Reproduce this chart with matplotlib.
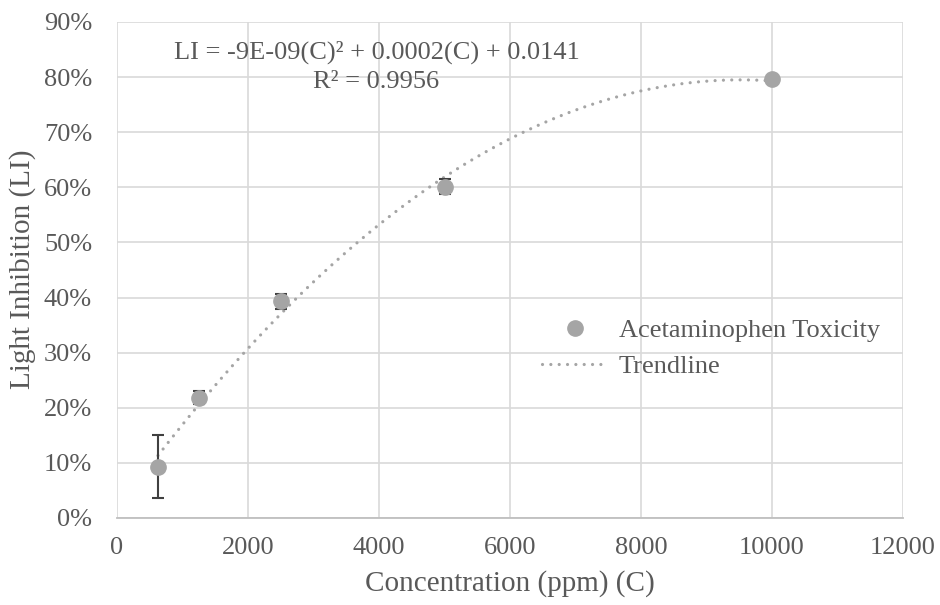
import numpy as np
import matplotlib.pyplot as plt
from matplotlib.ticker import PercentFormatter

# data
conc = [625, 1250, 2500, 5000, 10000]
inhibition = [0.093, 0.218, 0.393, 0.601, 0.796]
err = [0.057, 0.012, 0.013, 0.014, 0.0]

plt.rcParams['font.family'] = ['Liberation Serif', 'DejaVu Serif']
grey_text = '#595959'

fig = plt.figure(figsize=(9.4, 6.05), dpi=100)
ax = fig.add_axes([117 / 940, 1 - 518 / 605, (903 - 117) / 940, (518 - 22) / 605])

# trendline: 2nd order polynomial fit of the points
coef = np.polyfit(conc, inhibition, 2)
xs = np.linspace(conc[0], conc[-1], 300)
ax.plot(xs, np.polyval(coef, xs), linestyle=(0, (0.01, 2.6)), dash_capstyle='round',
        color='#a5a5a5', linewidth=2.3, label='Trendline', zorder=2)

ax.errorbar(conc, inhibition, yerr=err, fmt='none', ecolor='#404040',
            elinewidth=1.5, capsize=4.3, capthick=1.5, zorder=3)
ax.plot(conc, inhibition, 'o', color='#a5a5a5', markersize=11,
        label='Acetaminophen Toxicity', zorder=4)

ax.set_xlim(0, 12000)
ax.set_ylim(0, 0.9)
ax.set_xticks(range(0, 12001, 2000))
ax.set_yticks(np.arange(0, 0.91, 0.1))
ax.yaxis.set_major_formatter(PercentFormatter(1.0, decimals=0))
ax.grid(True, color='#d9d9d9', linewidth=1.2)
ax.set_axisbelow(True)
for s in ['top', 'right', 'left']:
    ax.spines[s].set_visible(False)
ax.spines['bottom'].set_color('#bfbfbf')
ax.spines['bottom'].set_linewidth(1.3)
ax.tick_params(length=0, labelsize=19, colors=grey_text)
ax.tick_params(axis='y', pad=18)
ax.tick_params(axis='x', pad=14)

ax.set_xlabel('Concentration (ppm) (C)', fontsize=21, color=grey_text)
ax.set_ylabel('Light Inhibition (LI)', fontsize=21, color=grey_text)
ax.xaxis.set_label_coords(0.5, -0.105)
ax.yaxis.set_label_coords(-0.103, 0.502)

ax.text(0.33, 0.939, 'LI = -9E-09(C)² + 0.0002(C) + 0.0141', transform=ax.transAxes,
        ha='center', va='center', fontsize=19, color=grey_text)
ax.text(0.33, 0.879, 'R² = 0.9956', transform=ax.transAxes,
        ha='center', va='center', fontsize=19, color=grey_text)

handles, labels = ax.get_legend_handles_labels()
leg = ax.legend(handles[::-1], labels[::-1], loc='upper left',
                bbox_to_anchor=(542 / 940, 1 - 319 / 605), bbox_transform=fig.transFigure,
                borderaxespad=0, borderpad=0, frameon=False, fontsize=19,
                labelcolor=grey_text, handlelength=2.5, handletextpad=0.4,
                labelspacing=0.45)

fig.savefig('out.png', dpi=100)
